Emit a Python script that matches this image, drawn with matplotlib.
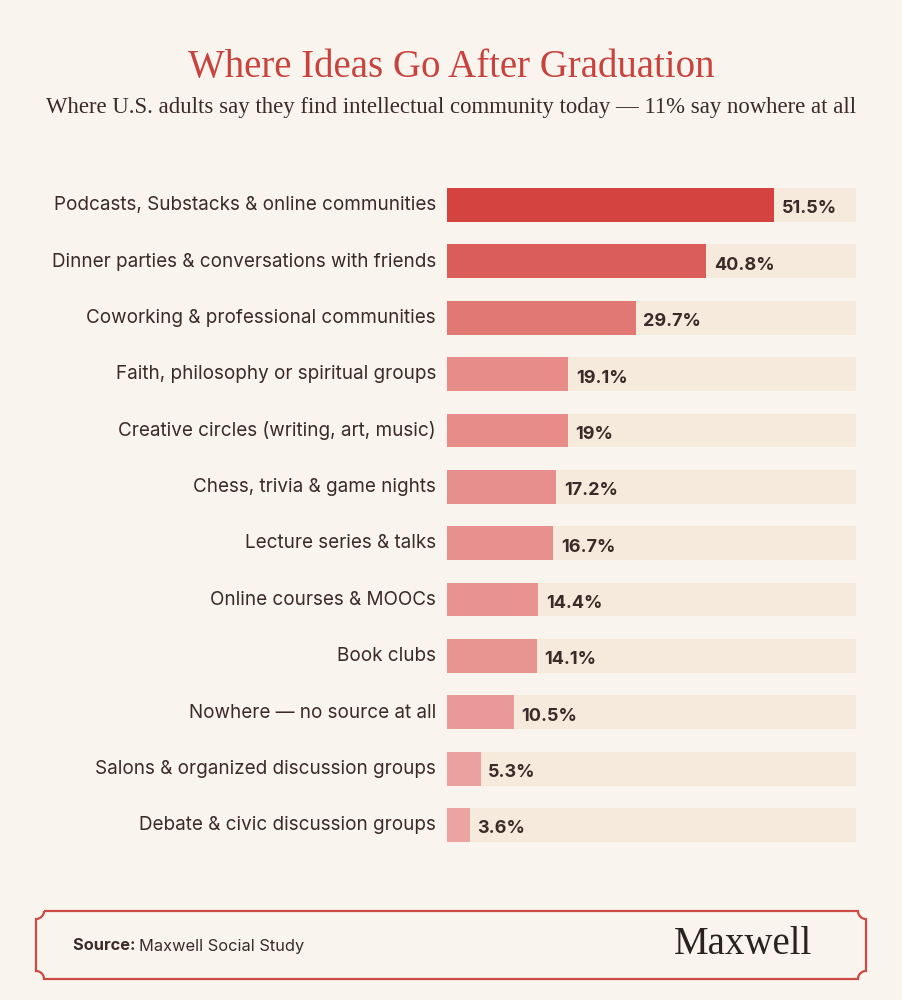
import numpy as np
import matplotlib
matplotlib.use("Agg")
import matplotlib.pyplot as plt
from matplotlib.path import Path
from matplotlib.patches import PathPatch
from matplotlib.colors import LinearSegmentedColormap

categories = [
    "Podcasts, Substacks & online communities",
    "Dinner parties & conversations with friends",
    "Coworking & professional communities",
    "Faith, philosophy or spiritual groups",
    "Creative circles (writing, art, music)",
    "Chess, trivia & game nights",
    "Lecture series & talks",
    "Online courses & MOOCs",
    "Book clubs",
    "Nowhere \u2014 no source at all",
    "Salons & organized discussion groups",
    "Debate & civic discussion groups",
]
values = [51.5, 40.8, 29.7, 19.1, 19, 17.2, 16.7, 14.4, 14.1, 10.5, 5.3, 3.6]
value_labels = ["51.5%", "40.8%", "29.7%", "19.1%", "19%", "17.2%", "16.7%",
                "14.4%", "14.1%", "10.5%", "5.3%", "3.6%"]

title = "Where Ideas Go After Graduation"
subtitle = "Where U.S. adults say they find intellectual community today \u2014 11% say nowhere at all"
source_bold = "Source:"
source_text = "Maxwell Social Study"
brand = "Maxwell"

BG = "#f9f4ee"
TRACK = "#f5eadb"
TEXT = "#3b2a28"
RED = "#c8433e"

W, H = 902, 1000
fig = plt.figure(figsize=(W / 100, H / 100), dpi=100, facecolor=BG)

# chart axes
x0, x1 = 447, 856
ytop, ybot = 176.8, 853.2
ax = fig.add_axes([x0 / W, 1 - ybot / H, (x1 - x0) / W, (ybot - ytop) / H])
ax.set_facecolor("none")
n = len(values)
ypos = np.arange(n)
vmax = max(values)
domain = vmax * 1.25
cmap = LinearSegmentedColormap.from_list("r", ["#eca9a8", "#e5827e", "#d4433f"])
colors = [cmap(v / vmax) for v in values]
ax.barh(ypos, [domain] * n, height=0.6, color=TRACK, zorder=1)
ax.barh(ypos, values, height=0.6, color=colors, zorder=2)
ax.set_xlim(0, domain)
ax.set_ylim(n - 0.5, -0.5)
for s in ax.spines.values():
    s.set_visible(False)
ax.set_xticks([])
ax.set_yticks(ypos - 0.03)
ax.set_yticklabels(categories, fontsize=13.6, color=TEXT, family="Inter")
ax.tick_params(axis="y", length=0, pad=8)
for y, v, lab in zip(ypos, values, value_labels):
    ax.text(v + 1.2, y + 0.07, lab, va="center", ha="left", fontsize=13,
            fontweight="bold", color=TEXT, family="Inter", zorder=3)

# overlay for titles/footer in pixel coordinates
ov = fig.add_axes([0, 0, 1, 1], facecolor="none")
ov.set_xlim(0, W)
ov.set_ylim(H, 0)
ov.axis("off")

ov.text(451, 67, title, ha="center", va="center", fontsize=28,
        color=RED, family="Liberation Serif")
ov.text(451, 108, subtitle, ha="center", va="center", fontsize=16.4,
        color=TEXT, family="Liberation Serif")

# footer frame with concave corners
L, R, T, B = 36, 866, 911, 979
r = 8
def arc(cx, cy, a0, a1):
    t = np.linspace(np.radians(a0), np.radians(a1), 12)
    return [(cx + r * np.cos(t_), cy + r * np.sin(t_)) for t_ in t]
pts = []
pts += [(L + r, T), (R - r, T)]
pts += arc(R, T, 180, 90)
pts += [(R, B - r)]
pts += arc(R, B, 270, 180)
pts += [(L + r, B)]
pts += arc(L, B, 0, -90)
pts += [(L, T + r)]
pts += arc(L, T, 90, 0)
codes = [Path.MOVETO] + [Path.LINETO] * (len(pts) - 1)
ov.add_patch(PathPatch(Path(pts, codes), facecolor="none", edgecolor="#cc4b44", lw=1.6))

t1 = ov.text(73, 946, source_bold + " ", ha="left", va="center", fontsize=11.8,
             fontweight="bold", color=TEXT, family="Inter")
fig.canvas.draw()
bb = t1.get_window_extent()
ov.text(73 + bb.width, 946, source_text, ha="left", va="center", fontsize=11.8,
        color=TEXT, family="Inter")
ov.text(812, 945, brand, ha="right", va="center", fontsize=28,
        color="#2a2220", family="Liberation Serif")

fig.savefig("out.png", dpi=100, facecolor=BG)
